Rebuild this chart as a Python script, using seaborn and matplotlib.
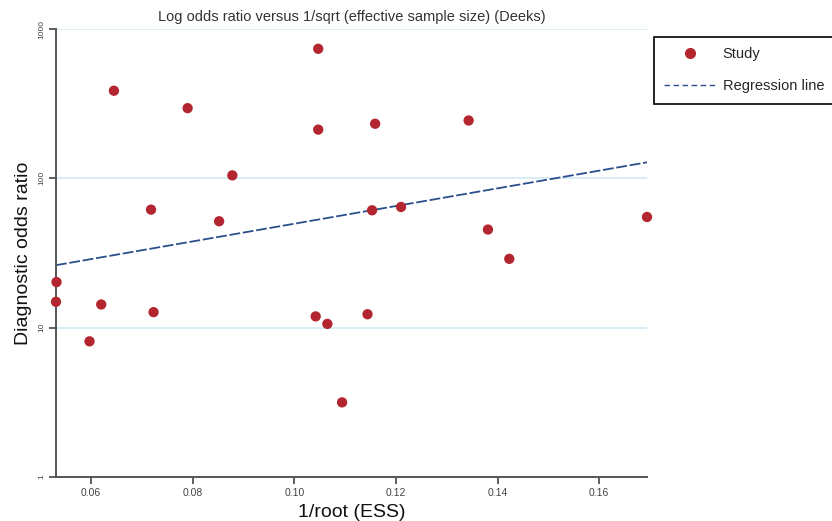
import numpy as np
import pandas as pd
import matplotlib
matplotlib.use("Agg")
import matplotlib.pyplot as plt
import seaborn as sns
from matplotlib.lines import Line2D

# ---- data ----
inv_root_ess = [0.0532, 0.0531, 0.0597, 0.0620, 0.0645, 0.0718, 0.0723, 0.0790,
                0.0852, 0.0878, 0.1047, 0.1047, 0.1042, 0.1065, 0.1094, 0.1144,
                0.1153, 0.1159, 0.1210, 0.1343, 0.1381, 0.1423, 0.1694]
dor = [20.2, 14.9, 8.1, 14.3, 386, 61.7, 12.7, 295,
       51.6, 104.7, 737, 212, 11.9, 10.6, 3.16, 12.3,
       61.1, 232, 64.3, 244, 45.4, 28.9, 55.1]
reg_x = [0.0531, 0.1694]
reg_y = [26.2, 128.0]
x_ticks = [0.06, 0.08, 0.10, 0.12, 0.14, 0.16]
x_ticklabels = ["0.06", "0.08", "0.10", "0.12", "0.14", "0.16"]
y_ticks = [1, 10, 100, 1000]
y_ticklabels = ["1", "10", "100", "1000"]
grid_levels = [10, 100, 1000]
legend_labels = ["Study", "Regression line"]

sns.set_theme(style="white")
plt.rcParams["font.family"] = ["Liberation Sans", "DejaVu Sans"]

pts = pd.DataFrame({"x": inv_root_ess, "y": dor})
reg = pd.DataFrame({"x": reg_x, "y": reg_y})

fig = plt.figure(figsize=(8.32, 5.21), dpi=100)
ax = fig.add_axes([56 / 832, 1 - 477 / 521, (647 - 56) / 832, (477 - 29) / 521])
ax.set_yscale("log")
ax.set_xlim(0.0531, 0.1694)
ax.set_ylim(1, 1000)

for g in grid_levels:
    ax.axhline(g, color="#d3eaf3", lw=1.2, zorder=0)

sns.lineplot(data=reg, x="x", y="y", ax=ax, color="#2c4f8c", lw=1.3,
             dashes=False, zorder=2, label="_nolegend_")
ax.lines[-1].set_linestyle((0, (6, 1.5)))
sns.scatterplot(data=pts, x="x", y="y", ax=ax, color="#b3262f", s=55,
                edgecolor="none", zorder=3, clip_on=False)

ax.set_xticks(x_ticks)
ax.set_xticklabels(x_ticklabels, fontsize=7.5, color="#444444")
ax.set_yticks(y_ticks)
ax.set_yticklabels(y_ticklabels, fontsize=6, color="#444444", rotation=90,
                   va="center")
ax.yaxis.set_minor_locator(matplotlib.ticker.NullLocator())
ax.tick_params(axis="both", which="major", direction="out", length=5,
               width=1.2, color="#444444", left=True, bottom=True, pad=3)

for s in ["top", "right"]:
    ax.spines[s].set_visible(False)
for s in ["left", "bottom"]:
    ax.spines[s].set_color("#555555")
    ax.spines[s].set_linewidth(1.4)

ax.set_xlabel("1/root (ESS)", fontsize=14, color="#111111", labelpad=4)
ax.set_ylabel("Diagnostic odds ratio", fontsize=14, color="#111111", labelpad=4)
ax.set_title("Log odds ratio versus 1/sqrt (effective sample size) (Deeks)",
             fontsize=10.5, color="#333333", pad=6)

handles = [
    Line2D([], [], marker="o", color="#b3262f", linestyle="none", markersize=7),
    Line2D([], [], color="#2c4f8c", lw=1.0, linestyle=(0, (4, 2.5))),
]
leg = fig.legend(handles, legend_labels, loc="upper left",
                 bbox_to_anchor=(654 / 832, 1 - 37 / 521), borderaxespad=0,
                 fontsize=10.5, frameon=True, fancybox=False, framealpha=1,
                 edgecolor="black", handlelength=3.6, handletextpad=0.4,
                 labelspacing=1.25, borderpad=0.7)
leg.get_frame().set_linewidth(1.2)

fig.savefig("out.png", dpi=100)
